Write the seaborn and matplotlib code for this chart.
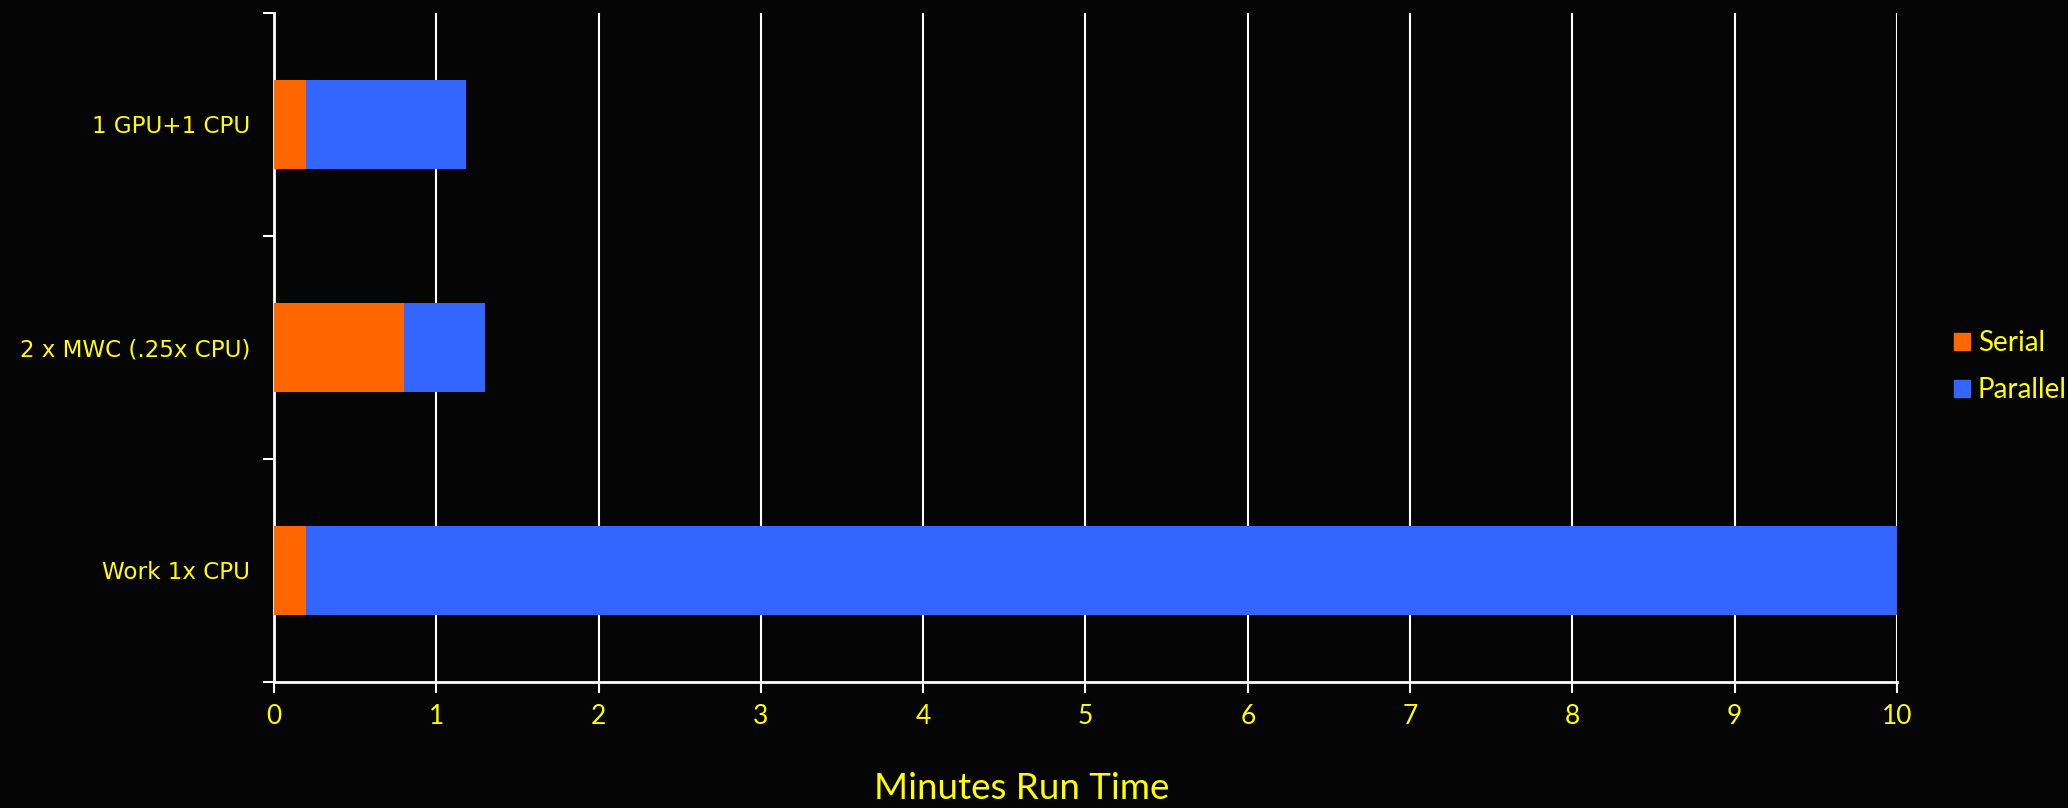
import matplotlib
matplotlib.use("Agg")
import matplotlib.pyplot as plt
import seaborn as sns
import pandas as pd
from matplotlib.patches import Patch
from matplotlib.ticker import FixedLocator

# Run time data (minutes)
categories = ["1 GPU+1 CPU", "2 x MWC (.25x CPU)", "Work 1x CPU"]
serial = [0.2, 0.8, 0.2]
parallel = [0.98, 0.5, 9.8]
x_ticks = list(range(0, 11))
series_names = ["Serial", "Parallel"]

df = pd.DataFrame({"System": categories, "Serial": serial, "Parallel": parallel})
df["Total"] = df["Serial"] + df["Parallel"]

orange = "#FF6600"
blue = "#3366FF"
yellow = "#FFFF00"
bg = "#050505"

sns.set_style("dark")
plt.rcParams["font.family"] = ["DejaVu Sans"]

fig = plt.figure(figsize=(20.68, 8.08), dpi=100, facecolor=bg)
ax = fig.add_axes([0.1325, 0.156, 0.7848, 0.828])
ax.set_facecolor(bg)

# Stacked bars: total in blue, serial part drawn over it in orange
sns.barplot(data=df, x="Total", y="System", order=categories, color=blue,
            saturation=1, width=0.4, linewidth=0, ax=ax, zorder=3)
sns.barplot(data=df, x="Serial", y="System", order=categories, color=orange,
            saturation=1, width=0.4, linewidth=0, ax=ax, zorder=4)

ax.set_xlim(0, 10)
ax.set_ylim(len(categories) - 0.5, -0.5)
ax.set_xticks(x_ticks)
ax.set_xticklabels([str(t) for t in x_ticks], color=yellow, fontsize=19, family="Lato")
ax.tick_params(axis="x", bottom=True, direction="out", length=8, width=1.5,
               color="white", pad=8)

# Category labels at centres, tick marks at boundaries
ax.tick_params(axis="y", which="major", left=True, length=0, pad=17,
               labelsize=16.6, labelcolor=yellow)
ax.yaxis.set_minor_locator(FixedLocator([i - 0.5 for i in range(len(categories) + 1)]))
ax.tick_params(axis="y", which="minor", left=True, direction="out", length=8,
               width=1.5, color="white")

ax.grid(axis="x", color="white", linewidth=1.5, zorder=1)
ax.grid(axis="y", visible=False)
ax.set_axisbelow(True)
for side in ["top", "right"]:
    ax.spines[side].set_visible(False)
for side in ["left", "bottom"]:
    ax.spines[side].set_visible(True)
    ax.spines[side].set_color("white")
    ax.spines[side].set_linewidth(2)

ax.set_xlabel("")
ax.set_ylabel("")
fig.text(0.494, 0.004, "Minutes Run Time", color=yellow, fontsize=26.5,
         family="Lato", ha="center", va="bottom")

handles = [Patch(color=orange), Patch(color=blue)]
leg = fig.legend(handles, series_names, loc="center left", bbox_to_anchor=(0.945, 0.546),
                 frameon=False, handlelength=0.55, handleheight=0.55,
                 handletextpad=0.3, labelspacing=0.75, borderpad=0, borderaxespad=0,
                 prop={"family": "Lato", "size": 20})
for t in leg.get_texts():
    t.set_color(yellow)

fig.savefig("out.png", dpi=100, facecolor=bg)
